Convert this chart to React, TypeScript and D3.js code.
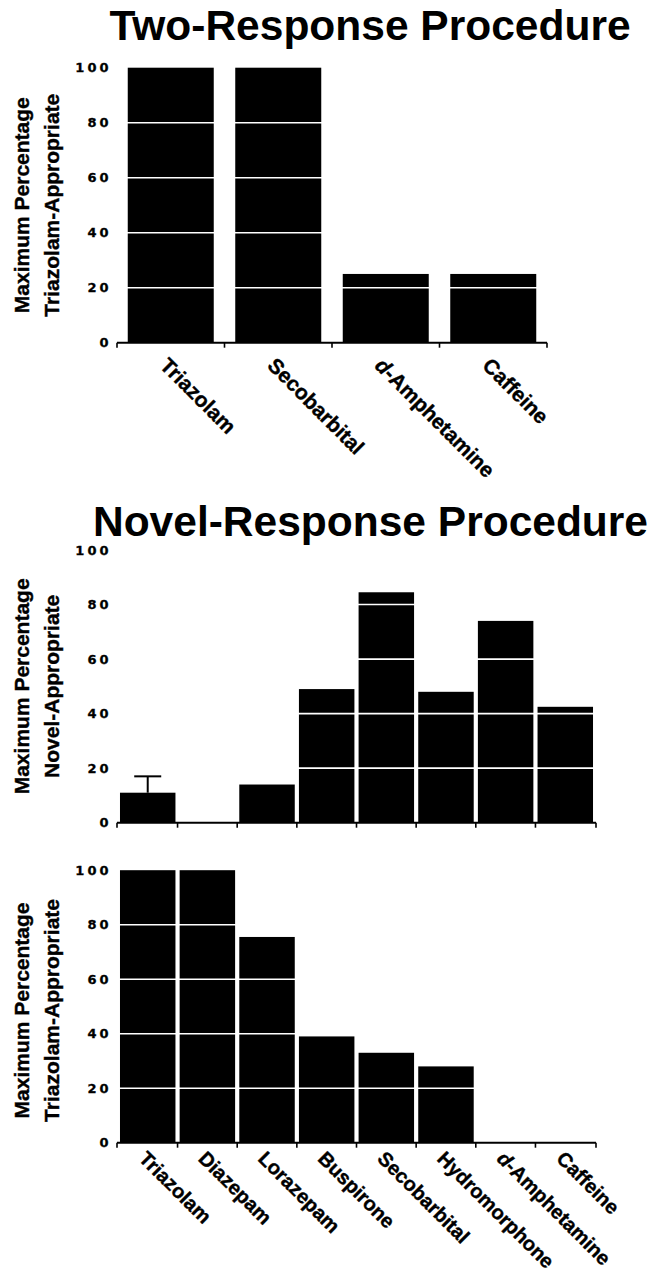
import React from "react";
import * as d3 from "d3";

// chart values
const twoCategories = ["Triazolam", "Secobarbital", "d-Amphetamine", "Caffeine"];
const twoTriazolamPct = [100, 100, 25, 25];

const novelCategories = [
  "Triazolam",
  "Diazepam",
  "Lorazepam",
  "Buspirone",
  "Secobarbital",
  "Hydromorphone",
  "d-Amphetamine",
  "Caffeine",
];
const novelNovelPct = [11, 0, 14, 49, 84.5, 48, 74, 42.5];
const novelNovelErr = [6, 0, 0, 0, 0, 0, 0, 0];
const novelTriazolamPct = [100, 100, 75.5, 39, 33, 28, 0, 0];

const yTicks = [0, 20, 40, 60, 80, 100];
const gridTicks = [20, 40, 60, 80];

const SANS = "'Liberation Sans', Arial, Helvetica, sans-serif";
const TICKFONT = "'DejaVu Sans', sans-serif";

type PanelProps = {
  categories: string[];
  values: number[];
  errors?: number[];
  top: number;
  bottom: number;
  left: number;
  right: number;
  padInner: number;
  padOuter: number;
  yTitle: string[];
  titleShift?: number;
  showLabels: boolean;
  labelDx?: number;
  labelDy?: number;
  labelSize?: number;
};

function Label({ text }: { text: string }) {
  if (text.startsWith("d-")) {
    return (
      <>
        <tspan fontStyle="italic">d</tspan>
        {text.slice(1)}
      </>
    );
  }
  return <>{text}</>;
}

function Panel(p: PanelProps) {
  const x = d3
    .scaleBand<string>()
    .domain(p.categories)
    .range([p.left, p.right])
    .paddingInner(p.padInner)
    .paddingOuter(p.padOuter);
  const y = d3.scaleLinear().domain([0, 100]).range([p.bottom, p.top]);
  const step = x.step();
  const bounds = p.categories.map((c, i) =>
    i === 0 ? p.left : (x(c) as number) - (step * p.padInner) / 2
  );
  bounds.push(p.right);
  const midY = (p.top + p.bottom) / 2 + (p.titleShift || 0);

  return (
    <g>
      {p.categories.map((c, i) =>
        p.values[i] > 0 ? (
          <rect
            key={c}
            x={x(c)}
            y={y(p.values[i])}
            width={x.bandwidth()}
            height={y(0) - y(p.values[i])}
            fill="#000"
          />
        ) : null
      )}
      {gridTicks.map((t) => (
        <line key={t} x1={p.left} x2={p.right} y1={y(t)} y2={y(t)} stroke="#fff" strokeWidth={1.6} />
      ))}
      {p.errors &&
        p.categories.map((c, i) => {
          const e = p.errors![i];
          if (!e) return null;
          const cx = (x(c) as number) + x.bandwidth() / 2;
          return (
            <g key={"e" + c} stroke="#000" strokeWidth={2}>
              <line x1={cx} x2={cx} y1={y(p.values[i])} y2={y(p.values[i] + e)} />
              <line x1={cx - 13.5} x2={cx + 13.5} y1={y(p.values[i] + e)} y2={y(p.values[i] + e)} />
            </g>
          );
        })}
      <line x1={p.left} x2={p.right} y1={y(0)} y2={y(0)} stroke="#000" strokeWidth={2} />
      {bounds.map((b, i) => (
        <line key={"t" + i} x1={b} x2={b} y1={y(0)} y2={y(0) + 5} stroke="#000" strokeWidth={1.6} />
      ))}
      {yTicks.map((t) => (
        <text
          key={"yl" + t}
          x={111.5}
          y={y(t)}
          dy="0.36em"
          textAnchor="end"
          fontFamily={TICKFONT}
          fontWeight="bold"
          fontSize={13}
          letterSpacing={3}
          fill="#000"
          stroke="#000"
          strokeWidth={0.3}
        >
          {t}
        </text>
      ))}
      {p.yTitle.map((line, i) => (
        <text
          key={"yt" + i}
          transform={`translate(${29 + i * 30},${midY}) rotate(-90)`}
          textAnchor="middle"
          fontFamily={SANS}
          fontWeight="bold"
          fontSize={21}
          fill="#000"
          stroke="#000"
          strokeWidth={0.4}
        >
          {line}
        </text>
      ))}
      {p.showLabels &&
        p.categories.map((c) => {
          const cx = (x(c) as number) + x.bandwidth() / 2;
          return (
            <text
              key={"xl" + c}
              transform={`translate(${cx + (p.labelDx || 0)},${y(0) + (p.labelDy || 0)}) rotate(45)`}
              fontFamily={SANS}
              fontWeight="bold"
              fontSize={p.labelSize || 21}
              fill="#000"
              stroke="#000"
              strokeWidth={0.4}
            >
              <Label text={c} />
            </text>
          );
        })}
    </g>
  );
}

export default function App() {
  return (
    <svg
      width={647}
      height={1276}
      style={{ position: "absolute", left: 0, top: 0, background: "#fff" }}
    >
      <rect width={647} height={1276} fill="#fff" />
      <text x={370} y={40} textAnchor="middle" fontFamily={SANS} fontWeight="bold" fontSize={42.5}>
        Two-Response Procedure
      </text>
      <Panel
        categories={twoCategories}
        values={twoTriazolamPct}
        top={67.7}
        bottom={342.7}
        left={117}
        right={547}
        padInner={0.2}
        padOuter={0.1}
        yTitle={["Maximum Percentage", "Triazolam-Appropriate"]}
        showLabels={true}
        labelDx={-12}
        labelDy={24}
      />
      <text x={370.5} y={536} textAnchor="middle" fontFamily={SANS} fontWeight="bold" fontSize={42.5}>
        Novel-Response Procedure
      </text>
      <Panel
        categories={novelCategories}
        values={novelNovelPct}
        errors={novelNovelErr}
        top={550}
        bottom={822.7}
        left={117}
        right={596}
        padInner={0.07}
        padOuter={0.05}
        yTitle={["Maximum Percentage", "Novel-Appropriate"]}
        showLabels={false}
      />
      <Panel
        categories={novelCategories}
        values={novelTriazolamPct}
        top={870.2}
        bottom={1142.7}
        left={117}
        right={596}
        padInner={0.07}
        padOuter={0.05}
        yTitle={["Maximum Percentage", "Triazolam-Appropriate"]}
        titleShift={4}
        showLabels={true}
        labelDx={-10}
        labelDy={17}
        labelSize={20}
      />
    </svg>
  );
}
